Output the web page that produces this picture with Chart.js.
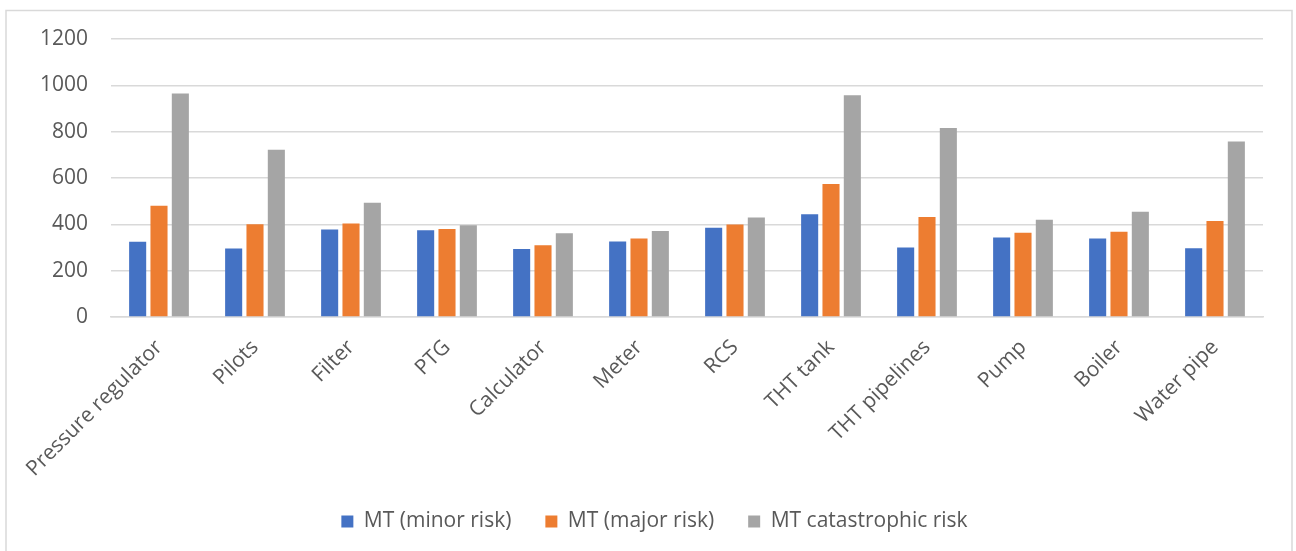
<!DOCTYPE html>
<html>
<head>
<meta charset="utf-8">
<script src="https://cdn.jsdelivr.net/npm/chart.js@4/dist/chart.umd.min.js"></script>
<style>
html,body{margin:0;padding:0;background:#fff;}
#wrap{position:relative;width:1296px;height:551px;}
</style>
</head>
<body>
<div id="wrap"><canvas id="c" width="1296" height="551"></canvas></div>
<script>
const categories = ["Pressure regulator","Pilots","Filter","PTG","Calculator","Meter","RCS","THT tank","THT pipelines","Pump","Boiler","Water pipe"];
const minorRisk = [325, 296, 378, 375, 294, 326, 385, 443, 300, 343, 339, 297];
const majorRisk = [480, 400, 404, 380, 310, 339, 399, 574, 432, 364, 368, 414];
const catastrophicRisk = [965, 722, 493, 396, 361, 371, 429, 957, 816, 420, 454, 758];
const seriesNames = ["MT (minor risk)", "MT (major risk)", "MT catastrophic risk"];
const yTicks = [0, 200, 400, 600, 800, 1000, 1200];

const FONT = "'Open Sans', 'DejaVu Sans', sans-serif";
const TEXT = "#595959";
const GRID = "#d9d9d9";

const borderPlugin = {
  id: 'outerBorder',
  beforeDraw(chart) {
    const ctx = chart.ctx;
    ctx.save();
    ctx.fillStyle = '#fff';
    ctx.fillRect(0, 0, chart.width, chart.height);
    ctx.strokeStyle = GRID;
    ctx.lineWidth = 1.5;
    ctx.strokeRect(6, 10.5, 1286, 560);
    ctx.restore();
  },
  afterLayout(chart) {
    if (chart.legend) {
      chart.legend.left += 23;
      chart.legend.right += 23;
    }
  }
};

new Chart(document.getElementById('c'), {
  type: 'bar',
  data: {
    labels: categories,
    datasets: [
      { label: seriesNames[0], data: minorRisk, backgroundColor: '#4472C4' },
      { label: seriesNames[1], data: majorRisk, backgroundColor: '#ED7D31' },
      { label: seriesNames[2], data: catastrophicRisk, backgroundColor: '#A5A5A5' }
    ]
  },
  options: {
    responsive: false,
    animation: false,
    devicePixelRatio: 1,
    categoryPercentage: 0.667,
    barPercentage: 0.8,
    layout: { padding: { top: 39, right: 33, left: 0, bottom: 9 } },
    plugins: {
      legend: {
        position: 'bottom',
        labels: {
          boxWidth: 12, boxHeight: 12, padding: 34,
          color: TEXT, font: { family: FONT, size: 21 }
        }
      },
      tooltip: { enabled: false }
    },
    scales: {
      x: {
        grid: { display: false, drawTicks: false },
        border: { display: true, color: GRID, width: 1.5 },
        ticks: {
          autoSkip: false, maxRotation: 45, minRotation: 45,
          color: TEXT, font: { family: FONT, size: 21 }, padding: 18
        },
        afterFit(scale) { scale.height = 160; }
      },
      y: {
        min: 0, max: 1200,
        afterBuildTicks(scale) { scale.ticks = yTicks.map(v => ({ value: v })); },
        grid: { color: GRID, lineWidth: 1.5, drawTicks: false },
        border: { display: false },
        ticks: {
          color: TEXT, font: { family: FONT, size: 21 }, padding: 23,
          callback: (v) => String(v)
        },
        afterFit(scale) { scale.width = 111; }
      }
    }
  },
  plugins: [borderPlugin]
});
</script>
</body>
</html>
